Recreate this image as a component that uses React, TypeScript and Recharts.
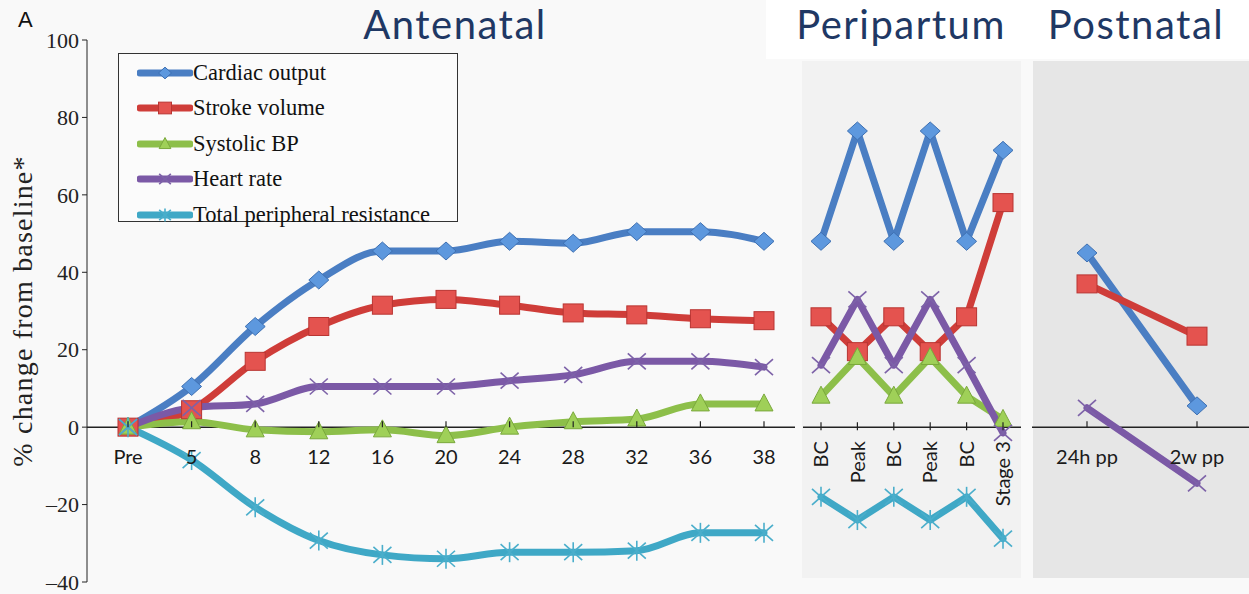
import React from 'react';
import { LineChart, Line, XAxis, YAxis, ReferenceLine, Legend, Label } from 'recharts';

// Antenatal: gestational week
const antenatalWeeks = ['Pre', '5', '8', '12', '16', '20', '24', '28', '32', '36', '38'];
const antCardiacOutput = [0, 10.5, 26, 38, 45.5, 45.5, 48, 47.5, 50.5, 50.5, 48];
const antStrokeVolume = [0, 4.5, 17, 26, 31.5, 33, 31.5, 29.5, 29, 28, 27.5];
const antSystolicBP = [0, 1.4, -0.7, -1.2, -0.7, -2.2, 0, 1.4, 2.1, 6, 6];
const antHeartRate = [0, 5, 6, 10.5, 10.5, 10.5, 12, 13.5, 17, 17, 15.5];
const antTPR = [0, -8.5, -20.7, -29.3, -33, -34, -32.3, -32.3, -31.9, -27.3, -27.3];

// Peripartum: BC = between contractions
const periStages = ['BC', 'Peak', 'BC', 'Peak', 'BC', 'Stage 3'];
const periCardiacOutput = [48, 76.5, 48, 76.5, 48, 71.5];
const periStrokeVolume = [28.5, 19.5, 28.5, 19.5, 28.5, 58];
const periSystolicBP = [8, 18, 8, 18, 8, 2];
const periHeartRate = [16, 33, 16, 33, 16, -1.5];
const periTPR = [-18, -24, -18, -24, -18, -28.8];

// Postnatal
const postTimes = ['24h pp', '2w pp'];
const postCardiacOutput = [45, 5.5];
const postStrokeVolume = [37, 23.5];
const postHeartRate = [5, -14.5];

const yTicks = [-40, -20, 0, 20, 40, 60, 80, 100];
const Y_MIN = -40;
const Y_MAX = 100;

const series = [
  { key: 'co', name: 'Cardiac output', color: '#4a7ec3', marker: 'diamond' },
  { key: 'sv', name: 'Stroke volume', color: '#cf3d39', marker: 'square' },
  { key: 'sbp', name: 'Systolic BP', color: '#8dbf4a', marker: 'triangle' },
  { key: 'hr', name: 'Heart rate', color: '#7b59a6', marker: 'cross' },
  { key: 'tpr', name: 'Total peripheral resistance', color: '#3fa8c6', marker: 'star' },
];

const antenatalData = antenatalWeeks.map((w, i) => ({
  name: w,
  co: antCardiacOutput[i],
  sv: antStrokeVolume[i],
  sbp: antSystolicBP[i],
  hr: antHeartRate[i],
  tpr: antTPR[i],
}));

const peripartumData = periStages.map((s, i) => ({
  name: s,
  co: periCardiacOutput[i],
  sv: periStrokeVolume[i],
  sbp: periSystolicBP[i],
  hr: periHeartRate[i],
  tpr: periTPR[i],
}));

const postnatalData = postTimes.map((t, i) => ({
  name: t,
  co: postCardiacOutput[i],
  sv: postStrokeVolume[i],
  hr: postHeartRate[i],
}));

// chart geometry shared by the three panels
const H = 594;
const TOP = 40;
const BOTTOM_AXIS = 12;
const PLOT_H = H - TOP - BOTTOM_AXIS;
const ZERO_Y = TOP + (PLOT_H * Y_MAX) / (Y_MAX - Y_MIN);

const sansFont = 'Lato, "Open Sans", sans-serif';
const serifFont = '"Liberation Serif", "Times New Roman", serif';

function Marker({ kind, cx, cy, s = 1 }: any) {
  switch (kind) {
    case 'diamond':
      return (
        <polygon
          points={`${cx},${cy - 9 * s} ${cx + 10 * s},${cy} ${cx},${cy + 9 * s} ${cx - 10 * s},${cy}`}
          fill="#5d98de" stroke="#3e70b2" strokeWidth={1}
        />
      );
    case 'square':
      return (
        <rect x={cx - 10 * s} y={cy - 9 * s} width={20 * s} height={18 * s}
          fill="#e4534f" stroke="#b93532" strokeWidth={1} />
      );
    case 'triangle':
      return (
        <polygon
          points={`${cx},${cy - 10 * s} ${cx + 9 * s},${cy + 7 * s} ${cx - 9 * s},${cy + 7 * s}`}
          fill="#9fd058" stroke="#7aa83c" strokeWidth={1}
        />
      );
    case 'cross':
      return (
        <g stroke="#7d62a8" strokeWidth={1.6}>
          <line x1={cx - 9 * s} y1={cy - 8 * s} x2={cx + 9 * s} y2={cy + 8 * s} />
          <line x1={cx - 9 * s} y1={cy + 8 * s} x2={cx + 9 * s} y2={cy - 8 * s} />
        </g>
      );
    default:
      return (
        <g stroke="#4aaecb" strokeWidth={1.6}>
          <line x1={cx - 9 * s} y1={cy - 8 * s} x2={cx + 9 * s} y2={cy + 8 * s} />
          <line x1={cx - 9 * s} y1={cy + 8 * s} x2={cx + 9 * s} y2={cy - 8 * s} />
          <line x1={cx} y1={cy - 10 * s} x2={cx} y2={cy + 10 * s} />
        </g>
      );
  }
}

const makeDot = (kind: string) => (props: any) => {
  const { cx, cy, index } = props;
  if (cx == null || cy == null) return <g key={`d-${index}`} />;
  return (
    <g key={`d-${index}`}>
      <Marker kind={kind} cx={cx} cy={cy} />
    </g>
  );
};

// x tick drawn on the zero line rather than the bottom of the plot
const FlatTick = ({ x, payload }: any) => (
  <g>
    <line x1={x} x2={x} y1={ZERO_Y} y2={ZERO_Y - 6} stroke="#222" strokeWidth={1.2} />
    <text x={x} y={ZERO_Y + 37} textAnchor="middle" style={{ fontFamily: sansFont, fontSize: 20 }} fill="#1a1a1a">
      {payload.value}
    </text>
  </g>
);

const RotatedTick = ({ x, payload }: any) => (
  <g>
    <line x1={x} x2={x} y1={ZERO_Y - 5} y2={ZERO_Y + 3} stroke="#222" strokeWidth={1.2} />
    <text
      transform={`translate(${x},${ZERO_Y + 14}) rotate(-90)`}
      textAnchor="end" dy="0.36em"
      style={{ fontFamily: sansFont, fontSize: 20 }} fill="#1a1a1a"
    >
      {payload.value}
    </text>
  </g>
);

const YTick = ({ x, y, payload }: any) => (
  <text x={x} y={y} dy="0.35em" textAnchor="end" style={{ fontFamily: serifFont, fontSize: 22 }} fill="#222">
    {payload.value < 0 ? `\u2013${-payload.value}` : `${payload.value}`}
  </text>
);

const renderLegend = () => (
  <div
    style={{
      width: 340, height: 169, boxSizing: 'border-box', border: '1.5px solid #333',
      padding: '1px 0 0 18px', fontFamily: serifFont, fontSize: 22.5, color: '#111',
      background: '#fbfbfb',
    }}
  >
    {series.map((s) => (
      <div key={s.key} style={{ display: 'flex', alignItems: 'center', height: 35.5, whiteSpace: 'nowrap' }}>
        <svg width={56} height={22} style={{ flex: 'none' }}>
          <line x1={3} y1={11} x2={53} y2={11} stroke={s.color} strokeWidth={7} strokeLinecap="round" />
          <Marker kind={s.marker} cx={28} cy={11} s={0.65} />
        </svg>
        <span>{s.name}</span>
      </div>
    ))}
  </div>
);

const renderLines = (keys: string[], type: 'monotone' | 'linear') =>
  series
    .filter((s) => keys.includes(s.key))
    .map((s) => (
      <Line
        key={s.key}
        type={type}
        dataKey={s.key}
        name={s.name}
        stroke={s.color}
        strokeWidth={7}
        strokeLinecap="round"
        strokeLinejoin="round"
        dot={makeDot(s.marker)}
        activeDot={false}
        isAnimationActive={false}
      />
    ));

const titleStyle: React.CSSProperties = {
  position: 'absolute', top: 0, textAlign: 'center', fontFamily: sansFont,
  fontSize: 40, letterSpacing: 1.5, lineHeight: 'normal', color: '#1f3864', whiteSpace: 'nowrap',
};

export default function App() {
  return (
    <div style={{ position: 'absolute', left: 0, top: 0, width: 1249, height: H, background: '#f9f9f9', overflow: 'hidden' }}>
      {/* panel backgrounds */}
      <div style={{ position: 'absolute', left: 766, top: 0, width: 483, height: 59, background: '#ffffff' }} />
      <div style={{ position: 'absolute', left: 802, top: 61, width: 219, height: 517, background: '#f2f2f2' }} />
      <div style={{ position: 'absolute', left: 1033, top: 61, width: 216, height: 517, background: '#e6e6e6' }} />

      {/* Antenatal */}
      <div style={{ position: 'absolute', left: 0, top: 0 }}>
        <LineChart width={800} height={H} data={antenatalData} margin={{ top: TOP, right: 5, bottom: 0, left: 0 }}>
          <XAxis
            dataKey="name" height={BOTTOM_AXIS} interval={0} axisLine={false} tickLine={false}
            padding={{ left: 41, right: 31 }} tick={(p: any) => <FlatTick {...p} />}
          />
          <YAxis
            width={87} domain={[Y_MIN, Y_MAX]} ticks={yTicks} interval={0}
            stroke="#222" tickSize={5} tickMargin={3}
            tick={(p: any) => <YTick {...p} />}
          >
            <Label
              content={({ viewBox }: any) => (
                <text
                  transform={`translate(${viewBox.x + 22},${viewBox.y + viewBox.height / 2}) rotate(-90)`}
                  textAnchor="middle" dy="0.35em"
                  style={{ fontFamily: serifFont, fontSize: 28, letterSpacing: 1.2 }} fill="#222"
                >
                  % change from baseline*
                </text>
              )}
            />
          </YAxis>
          <ReferenceLine y={0} stroke="#222" strokeWidth={1.5} />
          <Legend
            layout="vertical" align="center" verticalAlign="middle"
            wrapperStyle={{ top: 53, left: 118, width: 340, height: 169 }}
            content={renderLegend}
          />
          {renderLines(['co', 'sv', 'sbp', 'hr', 'tpr'], 'monotone')}
        </LineChart>
      </div>

      {/* Peripartum */}
      <div style={{ position: 'absolute', left: 803, top: 0 }}>
        <LineChart width={218} height={H} data={peripartumData} margin={{ top: TOP, right: 0, bottom: 0, left: 0 }}>
          <XAxis
            dataKey="name" height={BOTTOM_AXIS} interval={0} axisLine={false} tickLine={false}
            padding={{ left: 18, right: 18 }} tick={(p: any) => <RotatedTick {...p} />}
          />
          <YAxis hide domain={[Y_MIN, Y_MAX]} />
          <ReferenceLine y={0} stroke="#222" strokeWidth={1.5} />
          {renderLines(['co', 'sv', 'sbp', 'hr', 'tpr'], 'linear')}
        </LineChart>
      </div>

      {/* Postnatal */}
      <div style={{ position: 'absolute', left: 1032, top: 0 }}>
        <LineChart width={217} height={H} data={postnatalData} margin={{ top: TOP, right: 0, bottom: 0, left: 0 }}>
          <XAxis
            dataKey="name" height={BOTTOM_AXIS} interval={0} axisLine={false} tickLine={false}
            padding={{ left: 55, right: 52 }} tick={(p: any) => <FlatTick {...p} />}
          />
          <YAxis hide domain={[Y_MIN, Y_MAX]} />
          <ReferenceLine y={0} stroke="#222" strokeWidth={1.5} />
          {renderLines(['co', 'sv', 'hr'], 'linear')}
        </LineChart>
      </div>

      {/* panel titles */}
      <div style={{ position: 'absolute', left: 18, top: 8, fontFamily: '"Liberation Sans", Arial, sans-serif', fontSize: 22, lineHeight: '24px', color: '#111' }}>A</div>
      <div style={{ ...titleStyle, left: 345, width: 220 }}>Antenatal</div>
      <div style={{ ...titleStyle, left: 781, width: 240 }}>Peripartum</div>
      <div style={{ ...titleStyle, left: 1026, width: 220 }}>Postnatal</div>
    </div>
  );
}
